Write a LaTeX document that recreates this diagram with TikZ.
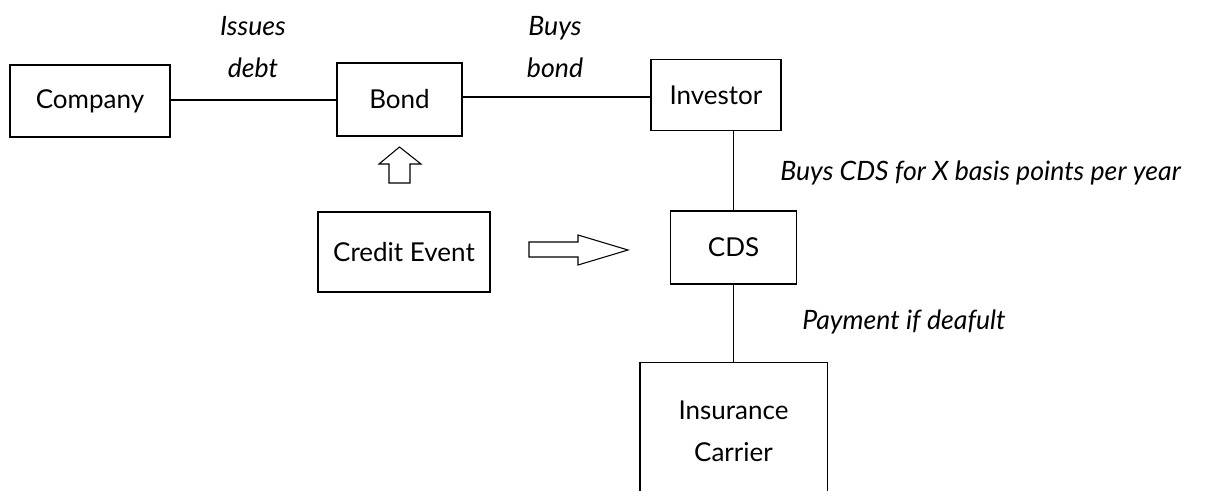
\documentclass[tikz,border=0pt]{standalone}
\usepackage{fontspec}
\setmainfont{Lato}
\usepackage{tikz}

\begin{document}
\begin{tikzpicture}[x=0.75pt, y=-0.75pt,
    box/.style={draw, line width=0.9pt, inner sep=0pt, align=center,
        font=\fontsize{19.5}{31.5}\selectfont},
    lbl/.style={inner sep=0pt, align=center, font=\fontsize{20}{31}\itshape\selectfont},
    link/.style={line width=0.9pt}]
    \useasboundingbox (0, 0) rectangle (1206, 490);

    \node[box, minimum width=120pt, minimum height=54pt] (comp) at (90, 101) {Company};
    \node[box, minimum width=93.75pt, minimum height=54.75pt] (bond) at (399.5, 99.5) {Bond};
    \node[box, minimum width=97.5pt, minimum height=53.25pt] (inv) at (716, 95) {Investor};
    \node[box, minimum width=94.5pt, minimum height=54.75pt] (cds) at (733.5, 247.5) {CDS};
    \node[box, minimum width=129pt, minimum height=60pt] (credit) at (404, 252) {Credit Event};
    \node[box, draw=none, minimum width=139.5pt, minimum height=102pt] (ins) at (733.5, 431) {Insurance\\Carrier};
    \draw[line width=0.9pt] (ins.south west) -- (ins.north west) -- (ins.north east) -- (ins.south east);

    \draw[link] (comp.east |- 0, 100) -- (bond.west |- 0, 100);
    \draw[link] (bond.east |- 0, 97) -- (inv.west |- 0, 97);
    \draw[link] (cds.north) -- (cds.north |- inv.south);
    \draw[link] (cds.south) -- (ins.north);

    \node[lbl] (issues) at (253, 47) {Issues\\debt};
    \node[lbl] (buys) at (555, 47) {Buys\\bond};
    \node[lbl, anchor=west] (premium) at (780, 173) {Buys CDS for X basis points per year};
    \node[lbl, anchor=west] (payment) at (802, 322) {Payment if deafult};

    % hollow arrows
    \draw[line width=0.8pt] (389, 183) -- (389, 164) -- (379, 164) -- (399.5, 147)
        -- (421, 164) -- (410, 164) -- (410, 183) -- cycle;
    \draw[line width=0.8pt] (529, 242) -- (578, 242) -- (578, 235) -- (628, 250)
        -- (578, 265) -- (578, 257) -- (529, 257) -- cycle;
\end{tikzpicture}
\end{document}
